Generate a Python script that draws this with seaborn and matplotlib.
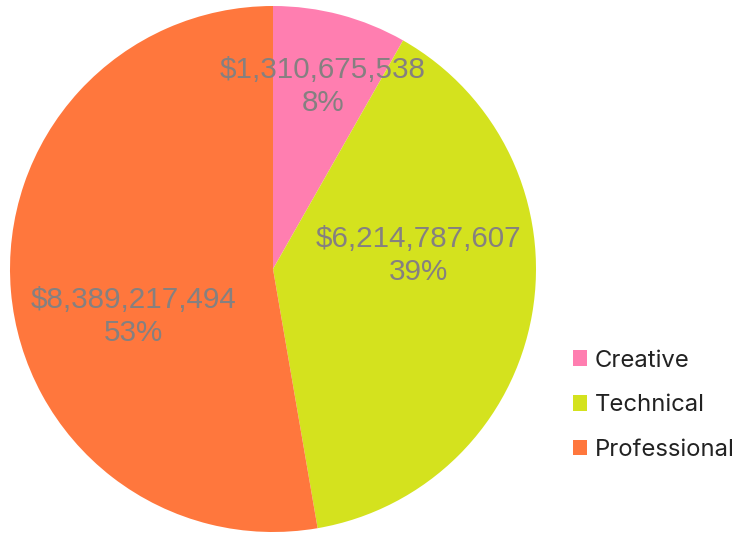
import matplotlib
matplotlib.use("Agg")
import matplotlib.pyplot as plt
from matplotlib.patches import Patch
import seaborn as sns
import numpy as np

categories = ["Creative", "Technical", "Professional"]
amounts = [1310675538, 6214787607, 8389217494]
colors = ["#FF7EB0", "#D4E21E", "#FF773D"]

sns.set_theme(style="white")
plt.rcParams["font.family"] = ["Liberation Sans", "DejaVu Sans"]

W, H = 735, 533
fig = plt.figure(figsize=(W / 100, H / 100), dpi=100)
fig.patch.set_facecolor("white")

# pie area in pixels: centre (273, 269), radius 263
cx, cy, r = 273, 269, 263
ax = fig.add_axes([(cx - r) / W, (H - cy - r) / H, 2 * r / W, 2 * r / H])
ax.set_aspect("equal")
ax.axis("off")

palette = sns.color_palette(colors)
wedges, _ = ax.pie(amounts, colors=palette, startangle=90, counterclock=False,
                   radius=1.0, wedgeprops=dict(linewidth=0))
ax.set_xlim(-1, 1)
ax.set_ylim(-1, 1)

total = sum(amounts)
# label anchor offsets (in units of pie radius) for each slice
label_pos = [(0.19, 0.695), (0.552, 0.05), (-0.532, -0.18)]
for amt, (lx, ly) in zip(amounts, label_pos):
    pct = amt / total * 100
    ax.text(lx, ly, f"${amt:,.0f}\n{pct:.0f}%", ha="center", va="center",
            color="#858080", fontsize=21.3, linespacing=1.22)

handles = [Patch(facecolor=c, edgecolor="none") for c in palette]
leg = fig.legend(handles, categories, loc="upper left",
                 bbox_to_anchor=(563 / W, 1 - 340 / H), frameon=False,
                 handlelength=0.62, handleheight=0.62, handletextpad=0.3,
                 labelspacing=0.95, borderaxespad=0,
                 prop=dict(family="Inter", size=17.2))
for t in leg.get_texts():
    t.set_color("#222222")

fig.savefig("out.png", dpi=100, facecolor="white")
